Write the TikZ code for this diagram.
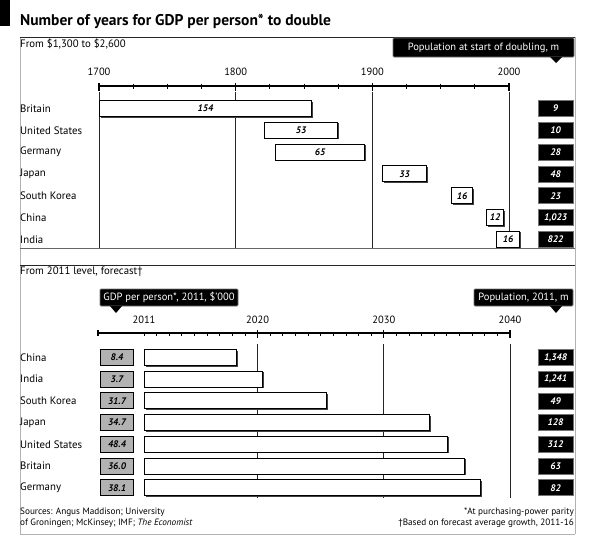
\documentclass[tikz,border=0pt]{standalone}
\usepackage{fontspec}
\setmainfont{PT Sans}
\usetikzlibrary{shadows}
\begin{document}
\begin{tikzpicture}[x=1pt,y=-1pt,
 lbl/.style={anchor=west, inner sep=0pt, font=\fontsize{10.8}{12}\selectfont},
 yrlbl/.style={inner sep=0pt, font=\fontsize{10.5}{12}\selectfont},
 barbox/.style={draw=black, line width=1pt, fill=white, minimum height=16pt, inner sep=0pt, anchor=west,
   font=\fontsize{9.5}{10}\selectfont\bfseries\itshape,
   drop shadow={shadow xshift=1pt, shadow yshift=-1pt, fill=black!75, opacity=1}},
 blkbox/.style={fill=black, draw=black!55, line width=0.8pt, text=white, minimum width=35pt, minimum height=16pt,
   inner sep=0pt, font=\fontsize{9.5}{10}\selectfont\bfseries\itshape},
 grybox/.style={fill=black!30, draw=black, line width=1pt, minimum width=33pt, minimum height=16pt,
   inner sep=0pt, font=\fontsize{9.5}{10}\selectfont\bfseries\itshape},
 callbox/.style={fill=black, draw=black!55, line width=0.8pt, text=white, inner sep=0pt, minimum height=17pt,
   rounded corners=1pt, font=\fontsize{10.5}{11}\selectfont},
 gridln/.style={draw=black!85, line width=0.8pt},
 framel/.style={draw=black!30, line width=0.8pt},
 rulel/.style={draw=black!85, line width=0.8pt},
 srcl/.style={inner sep=0pt, font=\fontsize{9.2}{10}\selectfont}
]
\useasboundingbox (0,0) rectangle (595,552);
\fill[white] (0,0) rectangle (595,552);

% corner mark and title
\fill[black] (0,0) rectangle (10,26);
\node[anchor=base west, inner sep=0pt, font=\fontsize{15.5}{17}\selectfont\bfseries] (title) at (20,25)
  {Number of years for GDP per person* to double};

% frame
\draw[framel] (20,37) -- (20,534);
\draw[framel] (575,37) -- (575,534);
\draw[framel] (20,534) -- (575,534);
\draw[rulel] (20,37) -- (575,37);
\draw[rulel, draw=black!60] (20,248) -- (575,248);
\draw[rulel] (20,265) -- (575,265);

% ---------- top panel ----------
\node[lbl] (sub1) at (20,44) {From \$1,300 to \$2,600};
\node[callbox, minimum width=181pt, minimum height=19pt] (callTR) at (483.5,47.5) {Population at start of doubling, m};
\fill[black] (550,57) -- (562,57) -- (556,63) -- cycle;

\node[yrlbl] (y1700) at (99,72) {1700};
\node[yrlbl] (y1800) at (235.7,72) {1800};
\node[yrlbl] (y1900) at (372.3,72) {1900};
\node[yrlbl] (y2000) at (509,72) {2000};

\draw[line width=1.2pt] (99,86) -- (509,86);
\foreach \k in {0,...,12} {
  \draw[line width=0.9pt] (99+\k*34.17,83.5) -- (99+\k*34.17,89);
}
\foreach \k in {0,4,8,12} {
  \draw[line width=1.2pt] (99+\k*34.17,83) -- (99+\k*34.17,91);
}
\draw[gridln] (99,92) -- (99,248);
\draw[gridln] (235.7,92) -- (235.7,248);
\draw[gridln] (372.3,92) -- (372.3,248);
\draw[gridln] (509,92) -- (509,248);

\node[lbl] (lBritain) at (20,108.5) {Britain};
\node[lbl] (lUS) at (20,130.3) {United States};
\node[lbl] (lGermany) at (20,152.1) {Germany};
\node[lbl] (lJapan) at (20,173.9) {Japan};
\node[lbl] (lKorea) at (20,195.7) {South Korea};
\node[lbl] (lChina) at (20,217.5) {China};
\node[lbl] (lIndia) at (20,239.3) {India};

\node[barbox, minimum width=212pt] (bBritain) at (99,108.5) {154};
\node[barbox, minimum width=73pt] (bUS) at (264,130.3) {53};
\node[barbox, minimum width=89pt] (bGermany) at (275,152.1) {65};
\node[barbox, minimum width=44pt] (bJapan) at (382,173.9) {33};
\node[barbox, minimum width=21pt] (bKorea) at (451,195.7) {16};
\node[barbox, minimum width=17pt] (bChina) at (486,217.5) {12};
\node[barbox, minimum width=23pt] (bIndia) at (496,239.3) {16};

\node[blkbox] (pBritain) at (555.5,108.5) {9};
\node[blkbox] (pUS) at (555.5,130.3) {10};
\node[blkbox] (pGermany) at (555.5,152.1) {28};
\node[blkbox] (pJapan) at (555.5,173.9) {48};
\node[blkbox] (pKorea) at (555.5,195.7) {23};
\node[blkbox] (pChina) at (555.5,217.5) {1,023};
\node[blkbox] (pIndia) at (555.5,239.3) {822};

% ---------- bottom panel ----------
\node[lbl] (sub2) at (20,272) {From 2011 level, forecast\textdagger};
\node[callbox, minimum width=138pt] (callBL) at (169,297.5) {GDP per person*, 2011, \$'000};
\fill[black] (110,306) -- (122,306) -- (116,313) -- cycle;
\node[callbox, minimum width=99pt] (callBR) at (523.5,297.5) {Population, 2011, m};
\fill[black] (550,306) -- (562,306) -- (556,313) -- cycle;

\node[yrlbl] (y2011) at (144,320) {2011};
\node[yrlbl] (y2020) at (257.6,320) {2020};
\node[yrlbl] (y2030) at (383.8,320) {2030};
\node[yrlbl] (y2040) at (510,320) {2040};

\draw[line width=1.2pt] (98,333) -- (510,333);
\foreach \k in {0,...,29} {
  \draw[line width=0.8pt] (144+\k*12.62,333) -- (144+\k*12.62,336);
}
\foreach \k in {9,19,29} {
  \draw[line width=1.1pt] (144+\k*12.62,330) -- (144+\k*12.62,338);
}
\draw[line width=1.1pt] (98,330) -- (98,336);
\draw[gridln] (257.6,344) -- (257.6,498);
\draw[gridln] (383.8,344) -- (383.8,498);
\draw[gridln] (510,344) -- (510,498);

\node[lbl] (mChina) at (20,357.5) {China};
\node[lbl] (mIndia) at (20,379.2) {India};
\node[lbl] (mKorea) at (20,400.9) {South Korea};
\node[lbl] (mJapan) at (20,422.6) {Japan};
\node[lbl] (mUS) at (20,444.3) {United States};
\node[lbl] (mBritain) at (20,466.0) {Britain};
\node[lbl] (mGermany) at (20,487.7) {Germany};

\node[grybox] (gChina) at (117,357.5) {8.4};
\node[grybox] (gIndia) at (117,379.2) {3.7};
\node[grybox] (gKorea) at (117,400.9) {31.7};
\node[grybox] (gJapan) at (117,422.6) {34.7};
\node[grybox] (gUS) at (117,444.3) {48.4};
\node[grybox] (gBritain) at (117,466.0) {36.0};
\node[grybox] (gGermany) at (117,487.7) {38.1};

\node[barbox, minimum width=92pt] (fChina) at (144,357.5) {};
\node[barbox, minimum width=118pt] (fIndia) at (144,379.2) {};
\node[barbox, minimum width=182pt] (fKorea) at (144,400.9) {};
\node[barbox, minimum width=285pt] (fJapan) at (144,422.6) {};
\node[barbox, minimum width=303pt] (fUS) at (144,444.3) {};
\node[barbox, minimum width=320pt] (fBritain) at (144,466.0) {};
\node[barbox, minimum width=336pt] (fGermany) at (144,487.7) {};

\node[blkbox] (qChina) at (555.5,357.5) {1,348};
\node[blkbox] (qIndia) at (555.5,379.2) {1,241};
\node[blkbox] (qKorea) at (555.5,400.9) {49};
\node[blkbox] (qJapan) at (555.5,422.6) {128};
\node[blkbox] (qUS) at (555.5,444.3) {312};
\node[blkbox] (qBritain) at (555.5,466.0) {63};
\node[blkbox] (qGermany) at (555.5,487.7) {82};

% ---------- footer ----------
\node[srcl, anchor=west] (src1) at (20,512) {Sources: Angus Maddison; University};
\node[srcl, anchor=west] (src2) at (20,523) {of Groningen; McKinsey; IMF; \textit{The Economist}};
\node[srcl, anchor=east] (note1) at (574,512) {*At purchasing-power parity};
\node[srcl, anchor=east] (note2) at (574,523) {\textdagger Based on forecast average growth, 2011-16};
\end{tikzpicture}
\end{document}
